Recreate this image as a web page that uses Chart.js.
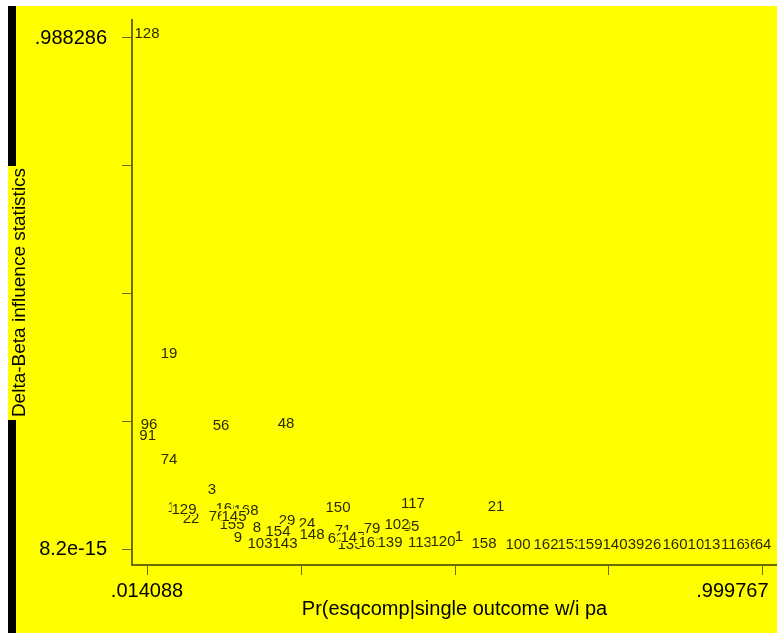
<!DOCTYPE html>
<html>
<head>
<meta charset="utf-8">
<script src="https://cdn.jsdelivr.net/npm/chart.js@4.4.0/dist/chart.umd.min.js"></script>
<style>
  html, body { margin: 0; background: #fff; }
  #wrap { position: absolute; left: 8px; top: 6px; width: 769px; height: 627px; background: #ffff00; }
</style>
</head>
<body>
<div id="wrap"><canvas id="dbeta" width="769" height="627"></canvas></div>
<script>
// observation number used as marker label, in drawing order
const obsLabels = ['128','19','91','96','56','48','74','3','104','22','129','166','168','76','155','145',
  '8','9','103','29','154','143','24','148','150','71','63','135','147','79','161','139','85','102','117',
  '113','120','1','158','21','100','153','162','159','140','39','26','160','10','13','66','116','64'];

// Pr(esqcomp|single outcome w/i pa)
const probValues = [0.014088,0.0493,0.0152,0.0173,0.1325,0.2365,0.0493,0.1181,0.0669,0.0845,0.0733,0.1437,0.1725,0.1261,0.1501,0.1533,
  0.1901,0.1597,0.1949,0.2381,0.2237,0.2349,0.2701,0.2781,0.3197,0.3277,0.3165,0.3389,0.3437,0.3741,0.3725,0.4029,0.4365,0.4141,0.4397,
  0.4509,0.4877,0.5133,0.5533,0.5725,0.6077,0.6909,0.6525,0.7229,0.7629,0.7965,0.8237,0.8589,0.8925,0.9181,0.9789,0.9517,0.999767];

// Delta-Beta influence statistics
const dbetaValues = [0.988286,0.3694,0.2108,0.2321,0.2301,0.2340,0.1644,0.1064,0.0716,0.0503,0.0677,0.0696,0.0658,0.0542,0.0387,0.0542,
  0.0329,0.0135,0.0019,0.0464,0.0251,0.0019,0.0406,0.0193,0.0716,0.0271,0.0116,0.0002,0.0135,0.0309,0.0039,0.0039,0.0348,0.0387,0.0793,
  0.0039,0.0058,0.0155,0.0019,0.0735,8.2e-15,0.0002,0.0003,0.0001,0.0001,0.0002,0.0001,0.0002,0.0001,0.0002,0.0001,0.0002,0.0001];

const xTickValues = [0.014088, 0.260508, 0.506928, 0.753347, 0.999767];
const xTickLabels = ['.014088', '', '', '', '.999767'];
const yTickValues = [8.2e-15, 0.247072, 0.494143, 0.741215, 0.988286];
const yTickLabels = ['8.2e-15', '', '', '', '.988286'];

const axisColor = '#6b6b00';
const labelColor = '#2b2b00';
const fontFamily = '"Liberation Sans", Arial, sans-serif';

// black strip on the left edge
const leftStrip = {
  id: 'leftStrip',
  beforeDraw(chart) {
    const ctx = chart.ctx;
    ctx.save();
    ctx.fillStyle = '#000';
    ctx.fillRect(0, 0, 8, 160);
    ctx.fillRect(0, 414, 8, 213);
    ctx.restore();
  }
};

// obs numbers drawn as the markers
const obsLabelPlugin = {
  id: 'obsLabels',
  afterDatasetsDraw(chart) {
    const ctx = chart.ctx;
    const meta = chart.getDatasetMeta(0);
    ctx.save();
    ctx.font = '15px ' + fontFamily;
    ctx.textAlign = 'center';
    ctx.textBaseline = 'alphabetic';
    meta.data.forEach((pt, i) => {
      const txt = obsLabels[i];
      const w = ctx.measureText(txt).width;
      ctx.fillStyle = '#ffff00';
      ctx.fillRect(pt.x - w / 2, pt.y - 12, w, 13);
      ctx.fillStyle = labelColor;
      ctx.fillText(txt, pt.x, pt.y);
    });
    ctx.restore();
  }
};

new Chart(document.getElementById('dbeta'), {
  type: 'scatter',
  data: {
    datasets: [{
      data: probValues.map((x, i) => ({ x: x, y: dbetaValues[i] })),
      pointRadius: 0,
      showLine: false
    }]
  },
  options: {
    responsive: false,
    animation: false,
    devicePixelRatio: 1,
    layout: { padding: { top: 14, left: 0, right: 0, bottom: 0 } },
    plugins: { legend: { display: false }, tooltip: { enabled: false } },
    scales: {
      x: {
        type: 'linear',
        min: -0.009914,
        max: 1.022169,
        afterBuildTicks: s => { s.ticks = xTickValues.map(v => ({ value: v })); },
        afterFit: s => { s.height = 68; s.paddingLeft = 0; s.paddingRight = 0; },
        ticks: {
          autoSkip: false,
          maxRotation: 0,
          padding: 4,
          color: '#000',
          font: { family: fontFamily, size: 20 },
          // last label sits left of its tick, like the original
          callback: (v, i) => i === xTickLabels.length - 1 ? xTickLabels[i] + ' '.repeat(11) : xTickLabels[i]
        },
        grid: { drawOnChartArea: false, drawTicks: true, tickLength: 10, color: axisColor, lineWidth: 1 },
        border: { color: axisColor, width: 2 },
        title: {
          display: true,
          text: 'Pr(esqcomp|single outcome w/i pa',
          color: '#000',
          font: { family: fontFamily, size: 20 },
          padding: { top: 0, bottom: 12 }
        }
      },
      y: {
        type: 'linear',
        min: -0.030944,
        max: 1.023098,
        afterBuildTicks: s => { s.ticks = yTickValues.map(v => ({ value: v })); },
        afterFit: s => { s.width = 124; s.paddingTop = 0; s.paddingBottom = 0; },
        ticks: {
          autoSkip: false,
          padding: 15,
          color: '#000',
          font: { family: fontFamily, size: 20 },
          callback: (v, i) => yTickLabels[i]
        },
        grid: { drawOnChartArea: false, drawTicks: true, tickLength: 10, color: axisColor, lineWidth: 1 },
        border: { color: axisColor, width: 2 },
        title: {
          display: true,
          text: 'Delta-Beta influence statistics',
          color: '#000',
          font: { family: fontFamily, size: 19 },
          padding: { top: 0, bottom: 0 }
        }
      }
    }
  },
  plugins: [leftStrip, obsLabelPlugin]
});
</script>
</body>
</html>
